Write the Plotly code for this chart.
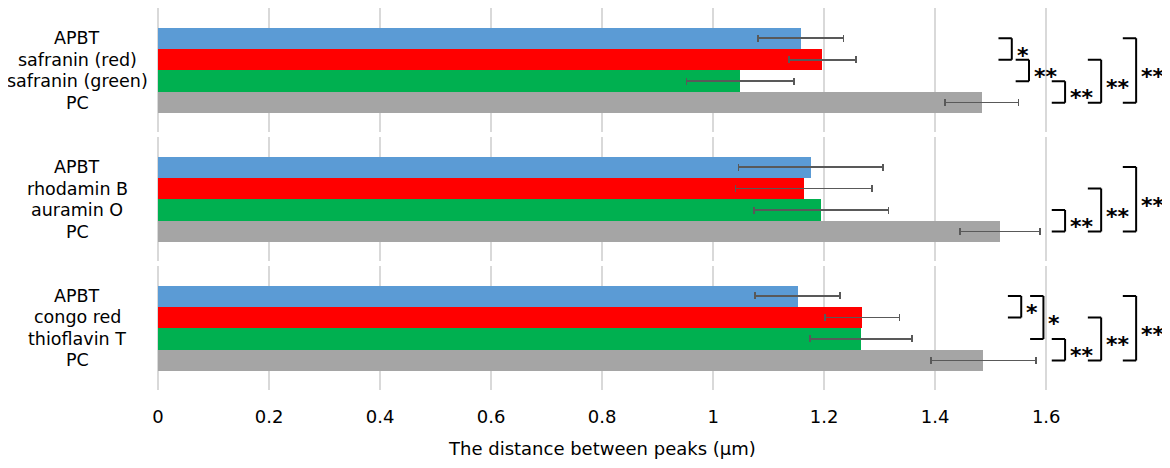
import plotly.graph_objects as go
from plotly.subplots import make_subplots

# three panels, 4 bars each (top -> bottom)
cats_1 = ['APBT', 'safranin (red)', 'safranin (green)', 'PC']
cats_2 = ['APBT', 'rhodamin B', 'auramin O', 'PC']
cats_3 = ['APBT', 'congo red', 'thioflavin T', 'PC']

mean_1 = [1.158, 1.197, 1.049, 1.484]
mean_2 = [1.176, 1.163, 1.195, 1.517]
mean_3 = [1.152, 1.269, 1.266, 1.487]

err_1 = [0.077, 0.060, 0.097, 0.066]
err_2 = [0.130, 0.123, 0.121, 0.072]
err_3 = [0.077, 0.067, 0.092, 0.095]

bar_colors = ['#5B9BD5', '#FF0000', '#00B050', '#A5A5A5']

x_ticks = [0, 0.2, 0.4, 0.6, 0.8, 1, 1.2, 1.4, 1.6]

# significance brackets: (panel, from bar, to bar, x of vertical line, label)
brackets = [
    (1, 0, 1, 1.538, '*'),
    (1, 1, 2, 1.569, '**'),
    (1, 2, 3, 1.634, '**'),
    (1, 1, 3, 1.699, '**'),
    (1, 0, 3, 1.762, '**'),
    (2, 2, 3, 1.634, '**'),
    (2, 1, 3, 1.699, '**'),
    (2, 0, 3, 1.762, '**'),
    (3, 0, 1, 1.555, '*'),
    (3, 0, 2, 1.595, '*'),
    (3, 2, 3, 1.634, '**'),
    (3, 1, 3, 1.699, '**'),
    (3, 0, 3, 1.762, '**'),
]

FONT = 'DejaVu Sans'

fig = make_subplots(rows=3, cols=1, shared_xaxes=True, vertical_spacing=0.012)

panels = [(cats_1, mean_1, err_1), (cats_2, mean_2, err_2), (cats_3, mean_3, err_3)]
for i, (cats, vals, errs) in enumerate(panels):
    row = i + 1
    fig.add_trace(go.Bar(
        x=vals, y=cats, orientation='h',
        marker=dict(color=bar_colors, line=dict(width=0)),
        error_x=dict(type='data', array=errs, color='#595959', thickness=1.6, width=3.5),
        showlegend=False,
    ), row=row, col=1)
    yref = 'y' if row == 1 else 'y%d' % row
    for j, c in enumerate(cats):
        fig.add_annotation(text=c, x=-0.08, xref='paper', y=j, yref=yref,
                           xanchor='center', yanchor='middle', showarrow=False,
                           font=dict(family=FONT, size=17.5, color='black'))
    fig.update_yaxes(type='category', categoryarray=cats, range=[4.38, -1.41],
                     showticklabels=False, showgrid=False, zeroline=False,
                     showline=False, ticks='', row=row, col=1)
    fig.update_xaxes(range=[0, 1.823], tickvals=x_ticks, showgrid=True,
                     gridcolor='#D9D9D9', gridwidth=1.5, zeroline=True,
                     zerolinecolor='#D9D9D9', zerolinewidth=1.5, showline=False,
                     ticks='', showticklabels=(row == 3), row=row, col=1)

fig.update_xaxes(tickfont=dict(family=FONT, size=18, color='black'),
                 ticks='outside', ticklen=10, tickcolor='rgba(0,0,0,0)', row=3, col=1)

for panel, a, b, xv, lab in brackets:
    yref = 'y' if panel == 1 else 'y%d' % panel
    xl = xv - 0.024
    line = dict(color='black', width=2)
    fig.add_shape(type='line', xref='x', yref=yref, x0=xl, x1=xv, y0=a, y1=a, line=line)
    fig.add_shape(type='line', xref='x', yref=yref, x0=xv, x1=xv, y0=a, y1=b, line=line)
    fig.add_shape(type='line', xref='x', yref=yref, x0=xl, x1=xv, y0=b, y1=b, line=line)
    fig.add_annotation(text='<b>%s</b>' % lab, x=xv + 0.005, xref='x',
                       y=(a + b) / 2 + 0.28, yref=yref,
                       xanchor='left', yanchor='middle', showarrow=False,
                       font=dict(family=FONT, size=22, color='black'))

fig.add_annotation(text='The distance between peaks (μm)', x=0.8, xref='x3',
                   y=-0.154, yref='paper', xanchor='center', yanchor='middle',
                   showarrow=False, font=dict(family=FONT, size=18, color='black'))

# page adds an 8px offset, so the figure is a bit smaller than the window
fig.update_layout(
    width=1162, height=460,
    margin=dict(l=150, r=0, t=0, b=78),
    bargap=0,
    plot_bgcolor='white', paper_bgcolor='white',
)

fig.write_html('out.html')
